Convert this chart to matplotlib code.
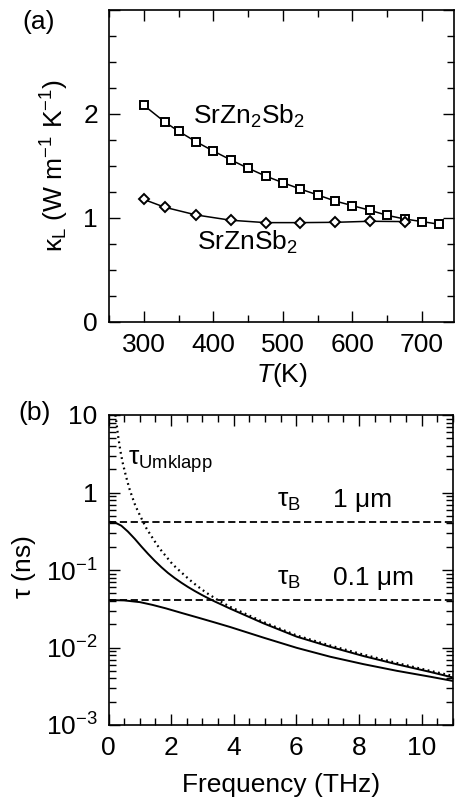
import matplotlib

matplotlib.use("Agg")
import matplotlib.pyplot as plt
from matplotlib.ticker import FixedLocator, FixedFormatter, MultipleLocator, LogLocator, NullFormatter

plt.rcParams["font.family"] = ["Liberation Sans", "DejaVu Sans"]
plt.rcParams["mathtext.fontset"] = "custom"
plt.rcParams["mathtext.rm"] = "Liberation Sans"
plt.rcParams["mathtext.it"] = "Liberation Sans:italic"
plt.rcParams["mathtext.default"] = "regular"
plt.rcParams["axes.linewidth"] = 1.2

FS = 19

# (a) lattice thermal conductivity vs temperature
temp_srzn2sb2 = [300, 330, 350, 375, 400, 425, 450, 475, 500, 525, 550, 575, 600, 625, 650, 675, 700, 725]
kappa_srzn2sb2 = [2.08, 1.92, 1.83, 1.73, 1.64, 1.555, 1.475, 1.40, 1.336, 1.275, 1.218, 1.16, 1.115, 1.071, 1.022, 0.987, 0.962, 0.936]
temp_srznsb2 = [300, 330, 375, 425, 475, 525, 575, 625, 675]
kappa_srznsb2 = [1.175, 1.10, 1.026, 0.975, 0.952, 0.952, 0.955, 0.965, 0.962]

# (b) relaxation times vs frequency
freq_umklapp = [0.22, 0.26, 0.30, 0.35, 0.40, 0.46, 0.53, 0.60, 0.68, 0.76, 0.85, 0.92, 1.02, 1.21, 1.37,
                1.56, 1.71, 1.85, 1.99, 2.15, 2.31, 2.47, 2.63, 2.81, 2.99, 3.16, 3.34, 3.50, 3.88, 4.95,
                6.01, 7.08, 8.14, 9.21, 10.27, 11.0]
tau_umklapp = [10, 7.6, 5.6, 4.1, 3.1, 2.35, 1.8, 1.4, 1.08, 0.87, 0.69, 0.597, 0.491, 0.345, 0.273,
               0.208, 0.173, 0.148, 0.126, 0.108, 0.0945, 0.0825, 0.0725, 0.0632, 0.0557, 0.0498, 0.0448,
               0.0408, 0.0335, 0.0213, 0.0143, 0.0106, 0.0081, 0.0063, 0.0050, 0.0043]
freq_total_1um = [0, 0.197, 0.41, 0.62, 0.84, 1.05, 1.26, 1.48, 1.69, 1.90, 2.11, 2.33, 2.54, 2.75, 2.97,
                  3.18, 3.39, 3.60, 3.88, 4.95, 6.01, 7.08, 8.14, 9.21, 10.27, 11.0]
tau_total_1um = [0.42, 0.412, 0.373, 0.313, 0.252, 0.201, 0.162, 0.131, 0.1086, 0.0916, 0.0789, 0.0684,
                 0.0603, 0.0537, 0.0479, 0.0433, 0.0393, 0.0359, 0.0318, 0.0205, 0.0138, 0.0102, 0.00776,
                 0.00607, 0.00484, 0.0041]
freq_total_01um = [0, 0.5, 1.0, 1.4, 1.83, 2.35, 2.89, 3.4, 3.88, 4.95, 6.01, 7.08, 8.14, 9.21, 10.27, 11.0]
tau_total_01um = [0.041, 0.0405, 0.0385, 0.0355, 0.032, 0.0278, 0.0241, 0.0210, 0.0184, 0.0134, 0.0099,
                  0.0076, 0.0061, 0.0050, 0.0042, 0.0037]
tau_boundary = [0.42, 0.041]
boundary_labels = ["1 μm", "0.1 μm"]

fig = plt.figure(figsize=(4.55, 7.97), dpi=100)
W, H = 455.0, 797.0

# ---- panel (a)
ax1 = fig.add_axes([109 / W, 1 - 321.7 / H, (454 - 109) / W, (321.7 - 9.5) / H])
ax1.plot(temp_srzn2sb2, kappa_srzn2sb2, "-s", color="black", lw=1.1, ms=5.6, mew=1.4, mfc="white", mec="black")
ax1.plot(temp_srznsb2, kappa_srznsb2, "-D", color="black", lw=1.1, ms=5, mew=1.4, mfc="white", mec="black")
ax1.set_xlim(250, 746)
ax1.set_ylim(0, 3)
ax1.xaxis.set_major_locator(FixedLocator([300, 400, 500, 600, 700]))
ax1.xaxis.set_minor_locator(MultipleLocator(50))
ax1.yaxis.set_major_locator(FixedLocator([0, 1, 2, 3]))
ax1.yaxis.set_major_formatter(FixedFormatter(["0", "1", "2", ""]))
ax1.yaxis.set_minor_locator(MultipleLocator(0.25))
ax1.text(371, 1.90, "SrZn$_2$Sb$_2$", fontsize=FS, va="baseline")
ax1.text(376, 0.69, "SrZnSb$_2$", fontsize=FS, va="baseline")
ax1.set_xlabel(r"$\mathit{T}$(K)", fontsize=FS, va="top")
ax1.xaxis.set_label_coords(0.5, -0.125)
ax1.set_ylabel(r"$\kappa_L$ (W m$^{-1}$ K$^{-1}$)", fontsize=FS)
ax1.yaxis.set_label_coords(-0.11, 0.5)

# ---- panel (b)
ax2 = fig.add_axes([108.5 / W, 1 - 725 / H, (453 - 108.5) / W, (725 - 415) / H])
ax2.set_yscale("log")
for tb in tau_boundary:
    ax2.axhline(tb, color="black", lw=1.3, dashes=(4, 2))
ax2.plot(freq_umklapp, tau_umklapp, color="black", lw=1.6, linestyle=(0, (0.8, 1.6)))
ax2.plot(freq_total_1um, tau_total_1um, color="black", lw=1.4)
ax2.plot(freq_total_01um, tau_total_01um, color="black", lw=1.4)
ax2.set_xlim(0, 11)
ax2.set_ylim(1e-3, 10)
ax2.xaxis.set_major_locator(MultipleLocator(2))
ax2.xaxis.set_minor_locator(MultipleLocator(0.5))
ax2.yaxis.set_major_locator(FixedLocator([1e-3, 1e-2, 1e-1, 1, 10]))
ax2.yaxis.set_major_formatter(FixedFormatter(["$10^{-3}$", "$10^{-2}$", "$10^{-1}$", "1", "10"]))
ax2.yaxis.set_minor_locator(LogLocator(base=10, subs=range(2, 10)))
ax2.yaxis.set_minor_formatter(NullFormatter())
ax2.text(0.63, 2.26, r"$\tau_{Umklapp}$", fontsize=FS, va="baseline")
ax2.text(5.37, 0.656, r"$\tau_B$", fontsize=FS, va="baseline")
ax2.text(7.18, 0.656, boundary_labels[0], fontsize=FS, va="baseline")
ax2.text(5.37, 0.064, r"$\tau_B$", fontsize=FS, va="baseline")
ax2.text(7.18, 0.064, boundary_labels[1], fontsize=FS, va="baseline")
ax2.set_xlabel("Frequency (THz)", fontsize=FS, va="top")
ax2.xaxis.set_label_coords(0.5, -0.155)
ax2.set_ylabel(r"$\tau$ (ns)", fontsize=FS)
ax2.yaxis.set_label_coords(-0.205, 0.51)

for ax in (ax1, ax2):
    ax.tick_params(which="both", direction="in", top=True, right=True, labelsize=FS, width=1.0)
    ax.tick_params(which="major", length=8, pad=8)
    ax.tick_params(which="minor", length=4.7)

fig.text(22 / W, 1 - 29 / H, "(a)", fontsize=FS, va="baseline")
fig.text(18 / W, 1 - 420 / H, "(b)", fontsize=FS, va="baseline")

fig.savefig("out.png", dpi=100)
plt.close(fig)
